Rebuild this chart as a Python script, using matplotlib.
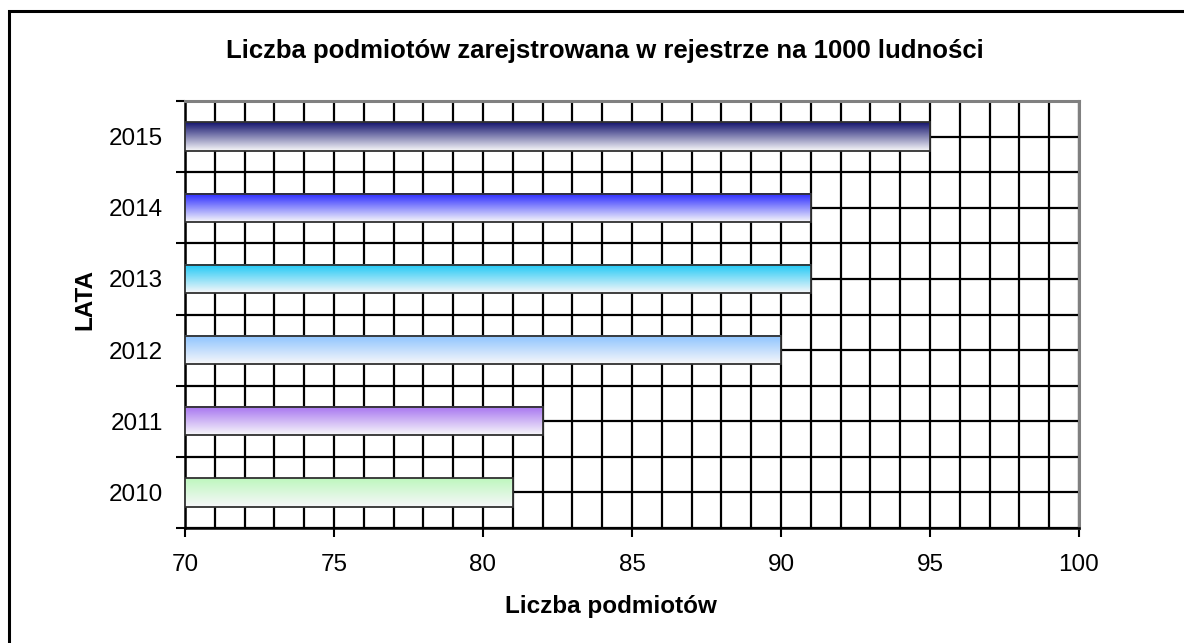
import numpy as np
import matplotlib
matplotlib.use('Agg')
import matplotlib.pyplot as plt
from matplotlib.colors import to_rgb
from matplotlib.patches import Rectangle

plt.rcParams['font.family'] = ['Liberation Sans', 'DejaVu Sans']

############## Data #####################
lata = ['2010', '2011', '2012', '2013', '2014', '2015']
wartosci = [81, 82, 90, 91, 91, 95]
kolory = ['#bef8be', '#a673f0', '#8cc3ff', '#1ec8f5', '#2828ff', '#14146e']

tytul = 'Liczba podmiotów zarejstrowana w rejestrze na 1000 ludności'
os_x = 'Liczba podmiotów'
os_y = 'LATA'

############## Figure #####################
fig = plt.figure(figsize=(11.84, 6.43), dpi=100)
ax = fig.add_axes([185 / 1184, 1 - 528 / 643, 894 / 1184, 427 / 643])

# outer frame of the chart (cut by the image on right and bottom)
fig.patches.append(Rectangle((9 / 1184, -0.5), 1.5, 1.5 - 11 / 643,
                             transform=fig.transFigure, fill=False,
                             edgecolor='black', linewidth=2.2))

h = 0.4
pos = np.arange(len(lata)) + 0.5
for y, v, c in zip(pos, wartosci, kolory):
    rgb = np.array(to_rgb(c))
    t = np.linspace(0, 1, 64)
    grad = rgb[None, :] + (np.array([0.97, 0.97, 0.98]) - rgb[None, :]) * t[:, None]
    ax.imshow(grad[:, None, :], extent=(70, v, y - h / 2, y + h / 2),
              origin='upper', aspect='auto', zorder=3, interpolation='bilinear')
ax.barh(pos, [v - 70 for v in wartosci], height=h, left=70, fill=False,
        edgecolor='#303030', linewidth=1.3, zorder=4)

ax.set_xlim(70, 100)
ax.set_ylim(0, len(lata))

# x axis
ax.set_xticks(np.arange(70, 101, 5))
ax.set_xticks(np.arange(70, 101, 1), minor=True)
# y axis: ticks at boundaries, labels at centres
ax.set_yticks(np.arange(0, len(lata) + 1))
ax.set_yticklabels([])
ax.set_yticks(pos, minor=True)
ax.set_yticklabels(lata, minor=True)

ax.tick_params(axis='both', which='major', length=6.5, width=1.5, direction='out',
               color='black', labelsize=17.5)
ax.tick_params(axis='both', which='minor', length=0, labelsize=17.5)
ax.tick_params(axis='y', which='minor', pad=16)
ax.tick_params(axis='x', which='major', pad=12)

ax.grid(True, which='both', color='black', linewidth=1.6, zorder=1)
ax.set_axisbelow(True)

for s in ['left', 'bottom']:
    ax.spines[s].set_color('black')
    ax.spines[s].set_linewidth(1.8)
for s in ['top', 'right']:
    ax.spines[s].set_color('#808080')
    ax.spines[s].set_linewidth(2.2)

fig.text(605 / 1184, 1 - 51 / 643, tytul, ha='center', va='center',
         fontsize=18.5, fontweight='bold')
fig.text(611 / 1184, 1 - 607 / 643, os_x, ha='center', va='center',
         fontsize=17.5, fontweight='bold')
fig.text(85 / 1184, 1 - 300 / 643, os_y, ha='center', va='center',
         fontsize=17.5, fontweight='bold', rotation=90)

fig.savefig('out.png', dpi=100, facecolor='white')
